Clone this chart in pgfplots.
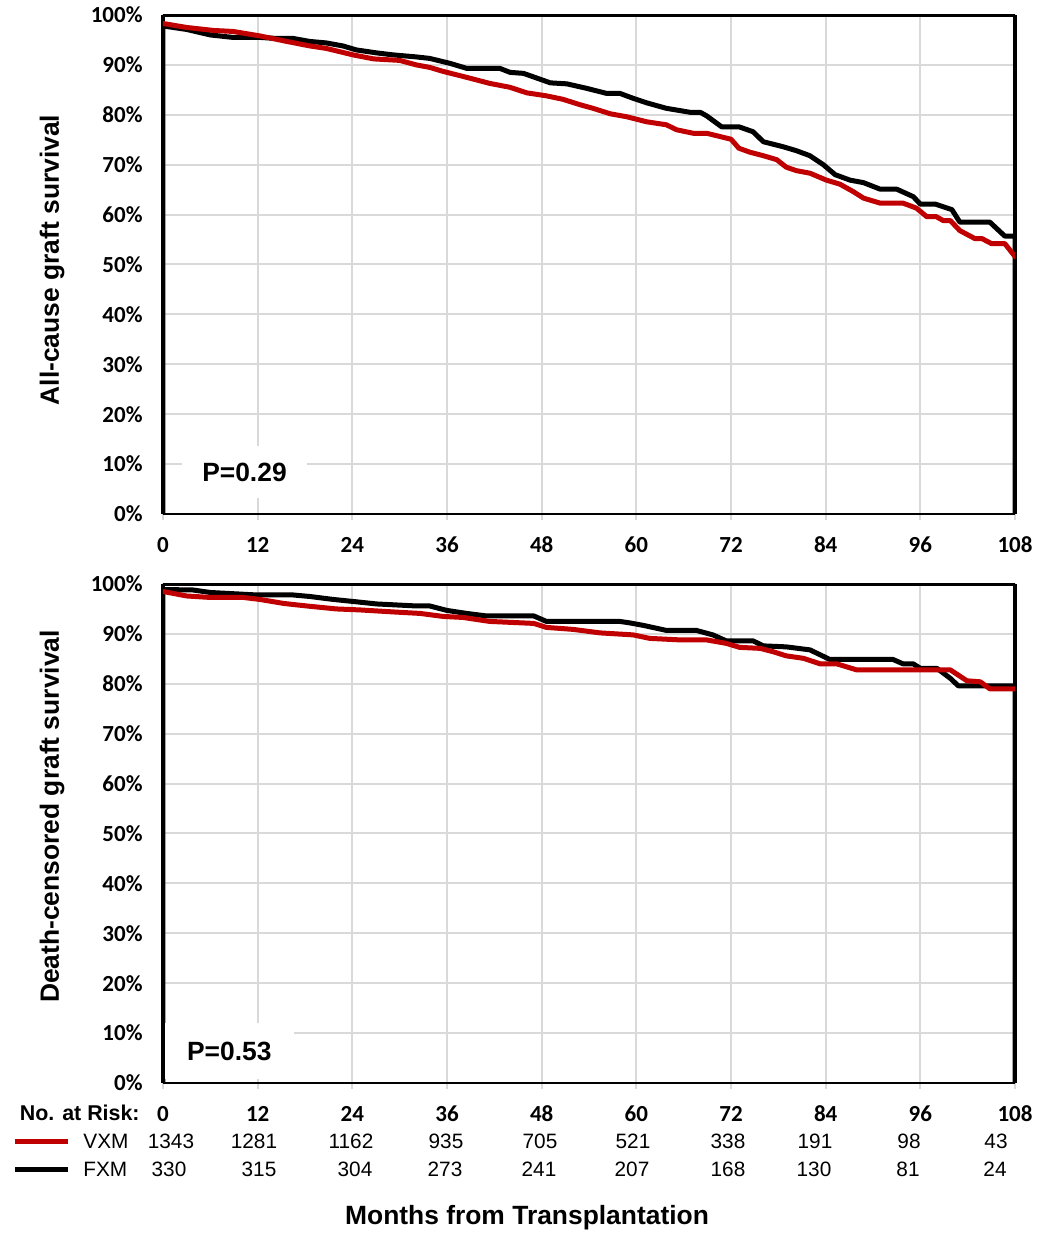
\documentclass[border=0pt]{standalone}
\usepackage{fontspec}
\setmainfont{Liberation Sans}
\newfontfamily\carlito{Carlito}
\usepackage{pgfplots}
\pgfplotsset{compat=1.18}
\usepackage{pgfplotstable}
\definecolor{vxm}{HTML}{C00000}
\definecolor{gridc}{HTML}{D9D9D9}

\pgfplotstableread{
m s
0 98.3
3 97.5
6.4 96.9
8.9 96.7
12.3 95.8
15.7 94.7
18.6 93.8
20.7 93.3
24.1 92.0
26.7 91.2
30 90.9
32.1 90.0
33.8 89.5
35.5 88.7
38.5 87.5
41.4 86.3
44 85.5
46.1 84.4
48.6 83.8
50.7 83.1
52.9 82.0
54.5 81.3
56.7 80.2
58.8 79.6
61.3 78.6
63.8 78.0
65.1 77.0
67.2 76.3
68.9 76.3
70.2 75.8
72 75.1
73 73.3
74.4 72.5
76.1 71.8
77.8 71.0
79.0 69.5
80.3 68.8
82.0 68.3
84.1 66.9
85.8 66.1
87.5 64.6
88.8 63.3
90.9 62.3
93.8 62.3
95.5 61.3
96.8 59.6
98.0 59.6
98.9 58.8
99.8 58.8
101 56.8
102.9 55.2
103.8 55.2
105 54.2
106.7 54.2
108 51.6
}\topvxm

\pgfplotstableread{
m s
0 0
0 97.8
3 97.1
6 96.0
8.9 95.5
12.3 95.5
14.4 95.3
16.5 95.3
18.6 94.7
20.7 94.4
22.8 93.8
24.5 93.0
27.1 92.4
29.2 92.0
32.1 91.6
33.8 91.3
36.4 90.3
38.5 89.3
42.7 89.3
44 88.5
45.7 88.3
49.1 86.4
51.2 86.2
53.7 85.3
56.2 84.3
57.9 84.3
59.6 83.3
61.3 82.4
63.8 81.3
66.8 80.5
68.1 80.5
68.9 79.8
70.8 77.6
73 77.6
74.8 76.6
76.1 74.6
78.6 73.6
80.3 72.8
82.0 71.8
83.7 70.0
85.2 68.0
87.1 66.9
88.8 66.4
90.9 65.1
93.0 65.1
95.1 63.6
96.0 62.1
97.9 62.1
100 61.0
101 58.5
104.8 58.5
106.7 55.7
108 55.7
108 0
}\topfxm

\pgfplotstableread{
m s
0 98.5
3 97.6
6 97.3
10.2 97.3
12.3 96.9
15.3 96.1
18.2 95.6
22 95.0
25 94.8
29.2 94.4
32.6 94.1
35.5 93.5
38.0 93.3
41.4 92.5
47 92.1
48.6 91.3
52 90.9
55.4 90.2
59.6 89.8
61.7 89.1
65.5 88.8
68.9 88.8
71.4 88.1
73.1 87.3
75.7 87.1
77.4 86.4
79 85.6
81.2 85.1
83.3 84.0
85.4 84.0
87.9 82.8
99.8 82.8
101.9 80.6
103.6 80.4
104.8 79.0
108 79.0
}\botvxm

\pgfplotstableread{
m s
0 0
0 98.9
3.8 98.8
6 98.3
11.9 97.8
16.5 97.8
18.6 97.5
21.6 96.9
24.1 96.5
27.1 96.0
32.1 95.6
33.8 95.6
36 94.7
38.5 94.1
41 93.6
47 93.6
48.6 92.5
57.9 92.5
59.2 92.2
60.9 91.7
63.8 90.7
67.6 90.7
69.7 89.8
71.4 88.6
74.8 88.6
76.1 87.6
79.0 87.4
82.0 86.8
84.5 84.9
92.5 84.9
93.8 84.0
95.1 84.0
96 83.1
98.1 83.1
99.8 81.1
100.8 79.6
108 79.6
108 0
}\botfxm

\pgfplotsset{km/.style={
  scale only axis, width=426bp, height=249.5bp,
  xmin=0, xmax=108, ymin=0, ymax=100,
  axis x line=bottom, axis y line=box,
  axis line style={-},
  x axis line style={-, line width=1bp, black},
  y axis line style={-, line width=2.2bp, black},
  xtick={0,12,...,108},
  xticklabels={0,12,24,36,48,60,72,84,96,108},
  ytick={0,10,...,100},
  yticklabels={0\%,10\%,20\%,30\%,40\%,50\%,60\%,70\%,80\%,90\%,100\%},
  grid=major, grid style={gridc, line width=1bp},
  tick align=outside, major tick length=3bp,
  x tick style={gridc, line width=1bp},
  y tick style={draw=none},
  tick label style={font=\carlito\bfseries\fontsize{11.5bp}{12bp}\selectfont},
  xticklabel style={yshift=-5bp},
  yticklabel style={xshift=-3.7bp},
  ylabel style={font=\bfseries\fontsize{13.2bp}{14bp}\selectfont, anchor=center},
  curve/.style={line width=2.5bp, line join=round, line cap=round},
}}

\begin{document}
\begin{tikzpicture}
\path[use as bounding box] (-81.5bp,-78.5bp) rectangle (437.5bp,541.5bp);

\begin{axis}[km, at={(0bp,284.5bp)}, anchor=south west,
  ylabel={All-cause graft survival},
  ylabel style={at={(rel axis cs:-0.1303,0.509)}}]
\addplot[curve, black] table[x=m, y=s] {\topfxm};
\addplot[curve, vxm] table[x=m, y=s] {\topvxm};
\node[fill=white, minimum width=62.5bp, minimum height=26bp, inner sep=0pt,
  font=\bfseries\fontsize{13.2bp}{14bp}\selectfont] at (axis cs:10.33,8.4) {P=0.29};
\draw[line width=2.2bp, line cap=rect] (rel axis cs:0,1) -- (rel axis cs:1,1);
\draw[gray!70, line width=0.7bp] ([yshift=-1.3bp]rel axis cs:0,0) -- ([yshift=-1.3bp]rel axis cs:1,0);
\end{axis}

\begin{axis}[km, at={(0bp,0bp)}, anchor=south west,
  ylabel={Death-censored graft survival},
  ylabel style={at={(rel axis cs:-0.1303,0.534)}}]
\addplot[curve, black] table[x=m, y=s] {\botfxm};
\addplot[curve, vxm] table[x=m, y=s] {\botvxm};
\node[fill=white, minimum width=64.5bp, minimum height=28bp, inner sep=0pt,
  font=\bfseries\fontsize{13.2bp}{14bp}\selectfont] at (axis cs:8.4,6.4) {P=0.53};
\draw[line width=2.2bp, line cap=rect] (rel axis cs:0,1) -- (rel axis cs:1,1);
\draw[gray!70, line width=0.7bp] ([yshift=-1.3bp]rel axis cs:0,0) -- ([yshift=-1.3bp]rel axis cs:1,0);
\end{axis}

% number at risk table
\node[anchor=east, inner sep=0pt, font=\bfseries\fontsize{10.7bp}{12bp}\selectfont] at (-11.5bp,-15bp) {No. at Risk:};
\draw[vxm, line width=2.5bp] (-74bp,-29bp) -- (-47.5bp,-29bp);
\draw[black, line width=2.5bp] (-74bp,-43bp) -- (-47.5bp,-43bp);
\node[anchor=west, inner sep=0pt, font=\fontsize{10.4bp}{12bp}\selectfont] at (-40bp,-29bp) {VXM};
\node[anchor=west, inner sep=0pt, font=\fontsize{10.4bp}{12bp}\selectfont] at (-40bp,-43bp) {FXM};
\foreach \x/\n in {4/1343,45.5/1281,94/1162,141.5/935,188.5/705,235/521,282.5/338,326/191,373/98,416.5/43}
  \node[inner sep=0pt, font=\fontsize{10.4bp}{12bp}\selectfont] at (\x bp,-29bp) {\n};
\foreach \x/\n in {3/330,48/315,96/304,141/273,188/241,234.5/207,282.5/168,325.5/130,372.5/81,416/24}
  \node[inner sep=0pt, font=\fontsize{10.4bp}{12bp}\selectfont] at (\x bp,-43bp) {\n};
\node[inner sep=0pt, font=\bfseries\fontsize{13.2bp}{14bp}\selectfont] at (182bp,-67.5bp) {Months from Transplantation};
\end{tikzpicture}
\end{document}
